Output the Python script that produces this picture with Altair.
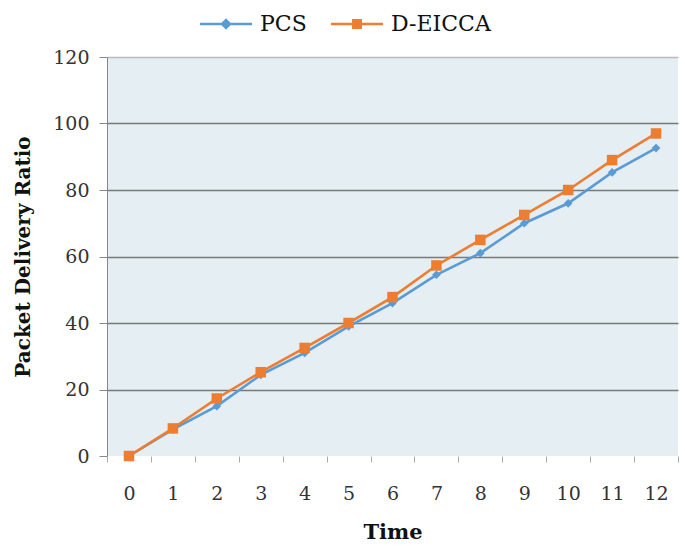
import altair as alt
import pandas as pd

times = list(range(13))
pcs = [0, 8, 15, 24.4, 31, 39, 46, 54.5, 61, 70, 76, 85.3, 92.6]
deicca = [0, 8.3, 17.3, 25.2, 32.5, 40, 47.8, 57.3, 65, 72.5, 80, 89, 97]
series_names = ["PCS", "D-EICCA"]
series_colors = ["#5b9bd5", "#ed7d31"]
y_ticks = [0, 20, 40, 60, 80, 100, 120]

df = pd.DataFrame(
    {
        "t": times * 2,
        "v": pcs + deicca,
        "series": ["PCS"] * len(times) + ["D-EICCA"] * len(times),
    }
)

SERIF = "DejaVu Serif"


def cscale():
    return alt.Scale(domain=series_names, range=series_colors)


x_enc = alt.X(
    "t:O",
    sort=times,
    scale=alt.Scale(type="band", paddingInner=0, paddingOuter=0),
    axis=alt.Axis(
        title="Time",
        labelAngle=0,
        labelFont=SERIF,
        labelFontSize=19,
        labelColor="#333333",
        labelPadding=22,
        tickBand="extent",
        tickSize=6,
        tickColor="#aaaaaa",
        domain=False,
        grid=False,
        titleFont=SERIF,
        titleFontSize=21,
        titleFontWeight="bold",
        titleColor="#111111",
        titlePadding=18,
    ),
)
y_enc = alt.Y(
    "v:Q",
    scale=alt.Scale(domain=[0, 120], nice=False),
    axis=alt.Axis(
        title="Packet Delivery Ratio",
        values=y_ticks,
        labelFont=SERIF,
        labelFontSize=19,
        labelColor="#333333",
        labelPadding=10,
        tickSize=8,
        tickColor="#888888",
        domainColor="#888888",
        grid=True,
        gridColor={
            "condition": [
                {"test": "datum.value === 0", "value": "transparent"},
                {"test": "datum.value === 120", "value": "#bbbbbb"},
            ],
            "value": "#7a7a7a",
        },
        gridWidth=1.3,
        titleFont=SERIF,
        titleFontSize=20,
        titleFontWeight="bold",
        titleColor="#111111",
        titlePadding=19,
    ),
)

base = alt.Chart(df)


def series_layers(name, shape, size):
    sub = base.transform_filter(alt.datum.series == name)
    line = sub.mark_line(strokeWidth=2.6).encode(
        x=x_enc, y=y_enc, color=alt.Color("series:N", scale=cscale(), legend=None)
    )
    pts = sub.mark_point(filled=True, shape=shape, size=size, opacity=1).encode(
        x=x_enc, y=y_enc, color=alt.Color("series:N", scale=cscale(), legend=None)
    )
    return [line, pts]


leg_paths = [
    "M-1,-0.05L1,-0.05L1,0.05L-1,0.05Z M0,-0.22L0.22,0L0,0.22L-0.22,0Z",
    "M-1,-0.05L1,-0.05L1,0.05L-1,0.05Z M-0.19,-0.19L0.19,-0.19L0.19,0.19L-0.19,0.19Z",
]
legend_def = alt.Legend(
    title=None,
    orient="none",
    legendX=93,
    legendY=-59,
    direction="horizontal",
    symbolSize=2704,
    symbolStrokeWidth=0,
    labelFont=SERIF,
    labelFontSize=22,
    labelColor="#111111",
    labelOffset=8,
    columnPadding=24,
    padding=0,
)
legend_layer = (
    base.transform_filter("false")
    .mark_point(filled=True, opacity=1)
    .encode(
        x=x_enc,
        y=y_enc,
        color=alt.Color("series:N", scale=cscale(), legend=legend_def),
        shape=alt.Shape(
            "series:N",
            scale=alt.Scale(domain=series_names, range=leg_paths),
            legend=legend_def,
        ),
    )
)

layers = (
    series_layers("PCS", "diamond", 75)
    + series_layers("D-EICCA", "square", 110)
    + [legend_layer]
)

chart = (
    alt.layer(*layers)
    .resolve_scale(color="independent", shape="independent")
    .resolve_legend(color="independent", shape="independent")
    .properties(
        width=571,
        height=399,
        autosize=alt.AutoSizeParams(type="none"),
        padding={"left": 107, "top": 57, "right": 7, "bottom": 90},
        background="white",
    )
    .configure_view(fill="#e4eef3", stroke=None)
    .configure_legend(labelFont=SERIF, labelFontSize=22, labelColor="#111111")
)

chart.save("out.html", embed_options={"renderer": "svg", "actions": False})
